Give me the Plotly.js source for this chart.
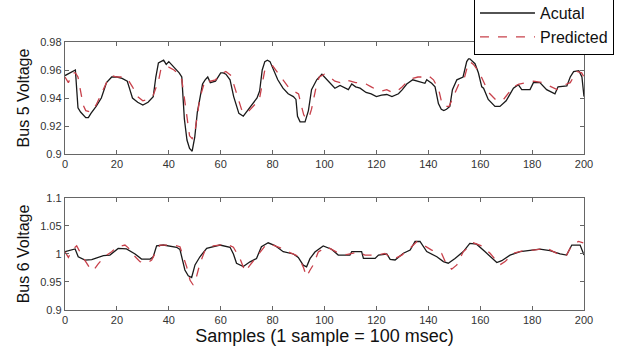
<!DOCTYPE html>
<html>
<head>
<meta charset="utf-8">
<script src="https://cdn.plot.ly/plotly-3.0.1.min.js"></script>
<style>html,body{margin:0;padding:0;background:#fff;}#chart{width:623px;height:351px;}</style>
</head>
<body>
<div id="chart"></div>
<script>
// ---- Bus 5 voltage (top panel) ----
const bus5ActualX = [0,2,4,5,6,8,9,10,12,14,16,18,20,22,24,25,26,28,30,32,34,35,36,38,39,40,42,44,45,46,47,48,49,50,51,52,53,54,55,56,58,60,61,62,63.6,65,67,68.7,70,72,74,75,76,77,78,79,80,82,84,86,88,89,89.6,90.6,92.5,93.8,95,97,99,100,102,104,106,108,109.2,110.5,112,113.7,116,118,120,122,124,126,128.5,130,131.7,134,136,138.7,139.4,141.3,142.6,143.9,145,146,147,148.3,149.3,150.3,151,153.4,154.8,155.5,156,158,159.3,160.6,161.3,163.1,164.5,165.7,167.6,170,172.8,174.7,176,179.2,180.5,183,185.6,188.8,190,193.4,194.7,196,198,199.2,200];
const bus5ActualY = [0.956,0.958,0.960,0.933,0.930,0.926,0.926,0.929,0.934,0.940,0.951,0.955,0.955,0.954,0.952,0.946,0.940,0.937,0.935,0.937,0.941,0.955,0.965,0.967,0.964,0.966,0.962,0.958,0.955,0.925,0.910,0.904,0.902,0.912,0.930,0.940,0.950,0.953,0.955,0.951,0.952,0.958,0.958,0.957,0.953,0.941,0.929,0.927,0.930,0.935,0.940,0.945,0.960,0.966,0.967,0.966,0.962,0.953,0.947,0.943,0.941,0.939,0.927,0.923,0.923,0.931,0.946,0.953,0.957,0.955,0.951,0.947,0.949,0.947,0.946,0.950,0.948,0.947,0.944,0.943,0.941,0.942,0.9425,0.941,0.943,0.946,0.950,0.953,0.952,0.9505,0.953,0.9505,0.948,0.936,0.932,0.931,0.932,0.934,0.946,0.951,0.953,0.955,0.966,0.968,0.968,0.9645,0.958,0.948,0.947,0.939,0.936,0.934,0.934,0.938,0.947,0.9495,0.946,0.946,0.951,0.951,0.946,0.943,0.948,0.9486,0.955,0.9588,0.9595,0.955,0.941];
const bus5PredX = [0,1.3,3,4,5,6,7,8,10,12,14,16,18,20,22,24,26,28,30,32,34,36,37,38,40,42,44,45,46,47,48,49,50,51,52,54,56,58,60,62,64,66,68,70,72,74,75,76,77,78,80,82,84,86,88,90,91,92,93,94,95,96,97,98,100,102,104,106,108,110,112,114,116,118,120,122,124,126,128,130,132,134,136,138,140,142,144,145,146,148,149,150,152,154,155,156,157.4,159,160.6,163.2,166.4,169,172.8,175,180.5,184,187,189.6,192,194.7,197.2,199.1,200];
const bus5PredY = [0.955,0.951,0.958,0.958,0.955,0.945,0.935,0.931,0.930,0.935,0.943,0.951,0.956,0.955,0.955,0.954,0.948,0.941,0.938,0.939,0.942,0.952,0.961,0.962,0.962,0.960,0.957,0.953,0.940,0.925,0.913,0.911,0.915,0.928,0.940,0.953,0.952,0.953,0.957,0.959,0.956,0.944,0.932,0.929,0.933,0.937,0.940,0.950,0.960,0.962,0.963,0.958,0.953,0.948,0.945,0.943,0.935,0.928,0.925,0.926,0.932,0.942,0.950,0.955,0.957,0.955,0.952,0.951,0.953,0.952,0.951,0.951,0.950,0.948,0.946,0.945,0.946,0.944,0.945,0.948,0.952,0.954,0.955,0.955,0.956,0.953,0.946,0.938,0.934,0.934,0.938,0.942,0.951,0.955,0.962,0.966,0.964,0.960,0.9545,0.944,0.938,0.939,0.948,0.950,0.952,0.951,0.948,0.946,0.949,0.951,0.959,0.958,0.955];

// ---- Bus 6 voltage (bottom panel) ----
const bus6ActualX = [0,2,3.9,5.1,7.7,10.3,12.5,14.8,17.3,20.5,23.7,27,29.5,32.8,34,35.3,37.9,43,44.3,46.2,47.5,48.8,50.1,52,54.6,59.7,63.6,64.9,66.1,68.7,71.3,73.8,75.7,78.3,80.9,84.1,88,89.9,91.8,93.1,94.4,96.3,99.5,102.7,105.3,109.8,110.5,114.3,115,119.5,120.8,124,125.3,127.2,130.4,133,134.9,136.8,139.4,143.3,145.8,147.7,150.3,153.5,156,158.6,161.8,164.4,166.4,168.3,171.5,175.4,180.5,183,186.9,190.8,193.3,195.3,198.5,199.7,200];
const bus6ActualY = [1.004,1.006,1.009,0.995,0.989,0.990,0.993,0.997,0.998,1.010,1.009,1.000,0.991,0.991,0.995,1.0145,1.016,1.012,1.008,0.9715,0.961,0.958,0.9805,0.995,1.010,1.016,1.012,1.000,0.9835,0.9775,0.986,0.992,1.013,1.020,1.015,1.004,1.000,0.994,0.980,0.977,0.9916,1.0035,1.0145,1.0085,0.998,0.998,1.0043,1.0043,0.992,0.992,0.998,1.000,0.9905,0.9893,1.0013,1.007,1.0223,1.0223,1.0043,0.995,0.9864,0.9835,0.992,1.0043,1.019,1.0175,1.0043,0.994,0.9847,0.988,0.998,1.0043,1.007,1.0085,1.006,1.000,0.998,1.016,1.016,1.0025,0.998];
const bus6PredX = [0,1.3,3,4.5,6.4,8,9.6,10.9,12.8,15.4,18,19.9,23.1,24.4,26.4,28.9,31.5,33.4,35.3,36.6,41.7,44.3,45.6,46.9,48.2,49.4,50.7,52,54,57.2,62.3,64.9,67.4,69.4,71.3,73.8,75.7,77.6,80.2,83.5,86.7,89.9,91.8,93.1,94.4,95.6,97.6,100.8,104.7,108.5,113,115.6,120.1,123.3,126.5,129.8,133,135.6,138.1,141.3,145.1,147.1,149,151,153.5,157.4,160.6,163.8,167.6,169.6,172.8,176.6,180.5,185.6,189.5,193.3,195.3,197.9,199.7];
const bus6PredY = [1.004,0.994,1.008,1.0145,0.998,0.985,0.9745,0.970,0.9825,0.996,1.004,1.0125,1.016,1.011,0.998,0.9864,0.9835,0.989,1.007,1.016,1.016,1.013,0.995,0.977,0.953,0.9446,0.960,0.983,1.007,1.0145,1.0175,1.012,0.992,0.9685,0.980,0.995,1.007,1.0175,1.016,1.010,1.0025,0.996,0.977,0.9595,0.971,0.980,1.0035,1.013,1.0035,0.9988,1.0035,0.998,0.998,1.001,0.9905,0.998,1.0103,1.0223,1.016,1.007,1.0013,0.9805,0.9728,0.9805,1.0043,1.020,1.0145,1.0013,0.9805,0.9864,1.0013,1.006,1.007,1.0104,1.0013,0.998,1.016,1.0223,1.020];

// ---- Tick labels ----
const xTickVals = [0,20,40,60,80,100,120,140,160,180,200];
const xTickText = ['0','20','40','60','80','100','120','140','160','180','200'];
const y5TickVals = [0.9,0.92,0.94,0.96,0.98];
const y5TickText = ['0.9','0.92','0.94','0.96','0.98'];
const y6TickVals = [0.9,0.95,1.0,1.05,1.1];
const y6TickText = ['0.9','0.95','1','1.05','1.1'];

const seriesNames = ['Acutal','Predicted'];
const actualColor = '#1a1a1a';
const predColor = '#c8414b';

const traces = [
  {x: bus5ActualX, y: bus5ActualY, xaxis:'x', yaxis:'y', mode:'lines', name: seriesNames[0],
   line:{color: actualColor, width:1.3}, legendgroup:'a'},
  {x: bus5PredX, y: bus5PredY, xaxis:'x', yaxis:'y', mode:'lines', name: seriesNames[1],
   line:{color: predColor, width:1.3, dash:'dash'}, legendgroup:'p'},
  {x: bus6ActualX, y: bus6ActualY, xaxis:'x2', yaxis:'y2', mode:'lines', name: seriesNames[0],
   line:{color: actualColor, width:1.3}, showlegend:false, legendgroup:'a'},
  {x: bus6PredX, y: bus6PredY, xaxis:'x2', yaxis:'y2', mode:'lines', name: seriesNames[1],
   line:{color: predColor, width:1.3, dash:'dash'}, showlegend:false, legendgroup:'p'}
];

const fam = 'Liberation Sans, Arial, sans-serif';
const tickFont = {family:fam, size:11, color:'#333'};
const axCommon = {
  showline:true, linecolor:'#666', linewidth:1.2, mirror:'ticks',
  ticks:'inside', ticklen:4, tickcolor:'#666', tickwidth:1,
  showgrid:false, zeroline:false, tickfont: tickFont, automargin:false
};

const layout = {
  width:623, height:351,
  paper_bgcolor:'#fff', plot_bgcolor:'#fff',
  margin:{l:65, r:39, t:42, b:41, autoexpand:false},
  showlegend:true,
  legend:{x:0.788, xanchor:'left', y:1.175, yanchor:'top',
          bgcolor:'#fff', bordercolor:'#000', borderwidth:1,
          itemwidth:55,
          font:{family:fam, size:16, color:'#111'},
          tracegroupgap:0},
  xaxis: Object.assign({}, axCommon, {domain:[0,1], range:[0,200], anchor:'y',
          tickvals:xTickVals, ticktext:xTickText}),
  yaxis: Object.assign({}, axCommon, {domain:[0.582,1], range:[0.9,0.98], anchor:'x',
          tickvals:y5TickVals, ticktext:y5TickText,
          title:{text:'Bus 5 Voltage', standoff:6,
                 font:{family:fam, size:16, color:'#111'}}}),
  xaxis2: Object.assign({}, axCommon, {domain:[0,1], range:[0,200], anchor:'y2',
          tickvals:xTickVals, ticktext:xTickText,
          title:{text:'Samples (1 sample = 100 msec)', standoff:2,
                 font:{family:fam, size:18, color:'#111'}}}),
  yaxis2: Object.assign({}, axCommon, {domain:[0,0.418], range:[0.9,1.1], anchor:'x2',
          tickvals:y6TickVals, ticktext:y6TickText,
          title:{text:'Bus 6 Voltage', standoff:6,
                 font:{family:fam, size:16, color:'#111'}}})
};

Plotly.newPlot('chart', traces, layout, {displayModeBar:false, staticPlot:true});
</script>
</body>
</html>
